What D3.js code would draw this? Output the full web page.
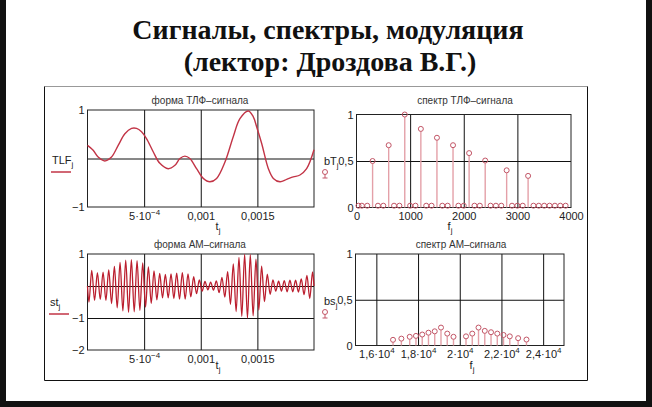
<!DOCTYPE html>
<html><head><meta charset="utf-8">
<script src="https://cdn.jsdelivr.net/npm/d3@7"></script>
<style>
html,body{margin:0;padding:0;background:#fff;}
svg{display:block;}
</style></head>
<body>
<svg id="c" width="652" height="407"></svg>
<script>
// ---------- DATA ----------
// ТЛФ signal: time (s) and value
const tlfT = [0,5.0e-5,9.4e-5,1.53e-4,2.12e-4,2.71e-4,3.30e-4,3.89e-4,4.33e-4,4.77e-4,5.21e-4,5.80e-4,6.39e-4,7.13e-4,7.72e-4,8.16e-4,8.60e-4,9.04e-4,9.63e-4,1.022e-3,1.081e-3,1.140e-3,1.214e-3,1.287e-3,1.346e-3,1.420e-3,1.464e-3,1.494e-3,1.538e-3,1.597e-3,1.641e-3,1.700e-3,1.759e-3,1.817e-3,1.876e-3,1.935e-3,2.0e-3];
const tlfV = [0.27,0.17,0.03,-0.05,0.03,0.27,0.51,0.62,0.62,0.55,0.41,0.14,-0.10,-0.21,-0.14,0.0,0.05,0.0,-0.21,-0.41,-0.48,-0.41,-0.07,0.45,0.82,0.98,0.86,0.65,0.31,-0.21,-0.41,-0.48,-0.43,-0.38,-0.34,-0.21,0.18];

// ТЛФ spectrum
const specF = [0,100,200,300,400,500,600,700,800,900,1000,1100,1200,1300,1400,1500,1600,1700,1800,1900,2000,2100,2200,2300,2400,2500,2600,2700,2800,2900,3000,3100,3200,3300,3400,3500,3600,3700,3800,3900];
const specV = [0,0,0,0.5,0,0,0.67,0,0,1.0,0,0,0.845,0,0,0.75,0,0,0.67,0,0,0.585,0,0,0.505,0,0,0,0.40,0,0,0,0.34,0,0,0,0,0,0,0];

// AM signal: carrier extremes (signed), one per half period of the 20 kHz carrier
const amHalfPeriod = 2.5e-5;
const amPeaks = [-0.50,0.49,-0.45,0.42,-0.42,0.43,-0.45,0.50,-0.55,0.61,-0.68,0.74,-0.78,0.81,-0.82,0.82,-0.81,0.79,-0.76,0.72,
 -0.66,0.60,-0.54,0.47,-0.43,0.39,-0.37,0.36,-0.37,0.38,-0.39,0.40,-0.41,0.42,-0.41,0.38,-0.34,0.29,-0.24,0.19,
 -0.16,0.14,-0.12,0.12,-0.13,0.16,-0.21,0.27,-0.35,0.45,-0.57,0.69,-0.80,0.89,-0.95,0.99,-1.00,0.98,-0.93,0.84,
 -0.75,0.62,-0.49,0.37,-0.26,0.19,-0.16,0.15,-0.16,0.17,-0.18,0.18,-0.18,0.18,-0.19,0.22,-0.27,0.33,-0.39,0.44];

// AM spectrum
const amSpecF = [16800,17200,17600,17900,18200,18500,18800,19100,19400,19700,20300,20600,20900,21200,21500,21800,22100,22400,22800,23200];
const amSpecV = [0.062,0.075,0.095,0.105,0.12,0.14,0.155,0.196,0.13,0.095,0.10,0.13,0.196,0.16,0.145,0.13,0.115,0.10,0.08,0.065];

// Tick labels
const tTicks = [5e-4,1e-3,1.5e-3];
const tTickLabels = [["5·10","−4"],["0,001",""],["0,0015",""]];
const fTicks = [0,1000,2000,3000,4000];
const fTickLabels = ["0","1000","2000","3000","4000"];
const fsTicks = [16000,18000,20000,22000,24000];
const fsTickLabels = [["1,6·10","4"],["1,8·10","4"],["2·10","4"],["2,2·10","4"],["2,4·10","4"]];

// ---------- DRAW ----------
const svg = d3.select("#c");
const FONT = "'Liberation Sans', Arial, sans-serif";
const RED = "#c23446";

// page frame
svg.append("rect").attr("x",0).attr("y",0).attr("width",652).attr("height",407).attr("fill","#fff");
svg.append("rect").attr("x",0).attr("y",0).attr("width",6).attr("height",407).attr("fill","#111");
svg.append("rect").attr("x",646).attr("y",0).attr("width",6).attr("height",407).attr("fill","#111");
svg.append("rect").attr("x",0).attr("y",401).attr("width",652).attr("height",6).attr("fill","#111");

// Title
svg.append("text").attr("x",328).attr("y",39).attr("text-anchor","middle")
  .attr("font-family","'Liberation Serif','Times New Roman',serif").attr("font-weight","bold").attr("font-size",28)
  .attr("fill","#111").text("Сигналы, спектры, модуляция");
svg.append("text").attr("x",330).attr("y",71).attr("text-anchor","middle")
  .attr("font-family","'Liberation Serif','Times New Roman',serif").attr("font-weight","bold").attr("font-size",28)
  .attr("fill","#111").text("(лектор: Дроздова В.Г.)");

// inner frame
svg.append("line").attr("x1",44.5).attr("x2",587.5).attr("y1",86.5).attr("y2",86.5).attr("stroke","#999");
svg.append("path").attr("d","M44.5,86.5V380.5H587.5V86.5").attr("fill","none").attr("stroke","#111");

function panel(cfg){
  const g = svg.append("g");
  const x = d3.scaleLinear().domain(cfg.xd).range([cfg.l,cfg.r]);
  const y = d3.scaleLinear().domain(cfg.yd).range([cfg.b,cfg.t]);
  // grid
  const gx = g.append("g").attr("transform",`translate(0,${cfg.b})`)
    .call(d3.axisBottom(x).tickValues(cfg.gridX).tickSize(-(cfg.b-cfg.t)).tickFormat(""));
  gx.select(".domain").remove();
  gx.selectAll("line").attr("stroke","#111").attr("stroke-width",1);
  const gy = g.append("g").attr("transform",`translate(${cfg.l},0)`)
    .call(d3.axisLeft(y).tickValues(cfg.gridY).tickSize(-(cfg.r-cfg.l)).tickFormat(""));
  gy.select(".domain").remove();
  gy.selectAll("line").attr("stroke","#111").attr("stroke-width",1);
  // frame
  g.append("rect").attr("x",cfg.l).attr("y",cfg.t).attr("width",cfg.r-cfg.l).attr("height",cfg.b-cfg.t)
    .attr("fill","none").attr("stroke","#222").attr("stroke-width",1);
  // x tick labels
  const ax = g.append("g").attr("transform",`translate(0,${cfg.b})`)
    .call(d3.axisBottom(x).tickValues(cfg.xTicks).tickSize(0).tickPadding(cfg.xPad||5).tickFormat(""));
  ax.select(".domain").remove();
  ax.selectAll("text").each(function(d,i){
    const lab = cfg.xLabels[i];
    const t = d3.select(this).attr("font-family",FONT).attr("font-size",11).attr("fill","#222");
    if (Array.isArray(lab)){
      t.append("tspan").text(lab[0]);
      if (lab[1]) t.append("tspan").attr("font-size",8).attr("dy",-5).text(lab[1]);
    } else t.text(lab);
  });
  // y tick labels
  const ay = g.append("g").attr("transform",`translate(${cfg.l},0)`)
    .call(d3.axisLeft(y).tickValues(cfg.yTicks).tickSize(0).tickPadding(3).tickFormat((d,i)=>cfg.yLabels[i]));
  ay.select(".domain").remove();
  ay.selectAll("text").attr("font-family",FONT).attr("font-size",11).attr("fill","#222");
  // title
  g.append("text").attr("x",cfg.titleX).attr("y",cfg.titleY).attr("text-anchor","middle")
    .attr("font-family",FONT).attr("font-size",10).attr("fill","#333").text(cfg.title);
  // x axis name
  const xn = g.append("text").attr("x",cfg.xnX).attr("y",cfg.xnY).attr("text-anchor","middle")
    .attr("font-family",FONT).attr("font-size",11).attr("fill","#222");
  xn.append("tspan").text(cfg.xName);
  xn.append("tspan").attr("font-size",8).attr("dy",3).text("j");
  return {g,x,y};
}

// Panel 1: ТЛФ signal
const p1 = panel({l:87.5,r:314,t:110,b:207,xd:[0,0.002],yd:[-1,1],gridX:tTicks,gridY:[0],
  xTicks:tTicks,xLabels:tTickLabels,yTicks:[1,-1],yLabels:["1","−1"],
  title:"форма ТЛФ–сигнала",titleX:200,titleY:104,xName:"t",xnX:218,xnY:230});
p1.g.append("path").datum(d3.zip(tlfT,tlfV))
  .attr("d",d3.line().x(d=>p1.x(d[0])).y(d=>p1.y(d[1])).curve(d3.curveCatmullRom))
  .attr("fill","none").attr("stroke",RED).attr("stroke-width",1.4);

// Panel 2: ТЛФ spectrum
const p2 = panel({l:356.5,r:571,t:114.5,b:207.5,xd:[0,4000],yd:[0,1],gridX:[1000,2000,3000],gridY:[0.5],
  xTicks:fTicks,xLabels:fTickLabels,yTicks:[1,0.5,0],yLabels:["1","0,5","0"],
  title:"спектр ТЛФ–сигнала",titleX:465,titleY:104,xName:"f",xnX:450,xnY:230});
const sp = d3.zip(specF,specV);
p2.g.selectAll("line.stem").data(sp.filter(d=>d[1]>0)).join("line").attr("class","stem")
  .attr("x1",d=>p2.x(d[0])).attr("x2",d=>p2.x(d[0]))
  .attr("y1",p2.y(0)).attr("y2",d=>p2.y(d[1])+2.6)
  .attr("stroke","#e4a0a8").attr("stroke-width",1.4);
p2.g.selectAll("circle").data(sp).join("circle")
  .attr("cx",d=>Math.max(p2.x(d[0]),p2.x(0)+2))
  .attr("cy",d=>d[1]>0?p2.y(d[1]):p2.y(d[1])-1.8)
  .attr("r",2.5).attr("fill","none").attr("stroke","#c25566").attr("stroke-width",1);

// Panel 3: AM signal
const p3 = panel({l:87.5,r:314,t:254,b:350,xd:[0,0.002],yd:[-2,1],gridX:tTicks,gridY:[0,-1],
  xTicks:tTicks,xLabels:tTickLabels,yTicks:[1,-1,-2],yLabels:["1","−1","−2"],
  title:"форма  АМ–сигнала",titleX:200,titleY:248,xName:"t",xnX:218,xnY:369});
const amPts = [[0,0]].concat(amPeaks.map((v,k)=>[(k+0.5)*amHalfPeriod,v])).concat([[0.002,0]]);
p3.g.append("path").datum(amPts)
  .attr("d",d3.line().x(d=>p3.x(d[0])).y(d=>p3.y(d[1])).curve(d3.curveMonotoneX))
  .attr("fill","none").attr("stroke","#bb1e2e").attr("stroke-width",1.3);

// Panel 4: AM spectrum
const p4 = panel({l:355.5,r:564,t:254,b:345.5,xd:[15000,25000],yd:[0,1],gridX:fsTicks,gridY:[0.5],
  xTicks:fsTicks,xLabels:fsTickLabels,yTicks:[1,0.5,0],yLabels:["1","0,5","0"],
  title:"спектр  АМ–сигнала",titleX:461,titleY:248,xName:"f",xnX:472,xnY:369});
const asp = d3.zip(amSpecF,amSpecV);
p4.g.selectAll("line.stem").data(asp).join("line").attr("class","stem")
  .attr("x1",d=>p4.x(d[0])).attr("x2",d=>p4.x(d[0]))
  .attr("y1",p4.y(0)).attr("y2",d=>p4.y(d[1])+2.6)
  .attr("stroke","#e4a0a8").attr("stroke-width",1.4);
p4.g.selectAll("circle").data(asp).join("circle")
  .attr("cx",d=>p4.x(d[0])).attr("cy",d=>p4.y(d[1]))
  .attr("r",2.5).attr("fill","none").attr("stroke","#c25566").attr("stroke-width",1);

// y-axis names / legends
function lineLegend(name, x, y){
  const t = svg.append("text").attr("x",x).attr("y",y).attr("font-family",FONT).attr("font-size",11).attr("fill","#222");
  t.append("tspan").text(name);
  t.append("tspan").attr("font-size",8).attr("dy",3).text("j");
  svg.append("line").attr("x1",x-1).attr("x2",x+19).attr("y1",y+8).attr("y2",y+8).attr("stroke",RED).attr("stroke-width",1.5);
}
lineLegend("TLF", 52, 164);
lineLegend("st", 50, 306);
function stemLegend(name, x, y){
  const t = svg.append("text").attr("x",x).attr("y",y).attr("font-family",FONT).attr("font-size",11).attr("fill","#222");
  t.append("tspan").text(name);
  t.append("tspan").attr("font-size",8).attr("dy",3).text("j");
  const cx = x+1, cy = y+7;
  svg.append("circle").attr("cx",cx).attr("cy",cy).attr("r",2.5).attr("fill","none").attr("stroke","#c25566");
  svg.append("line").attr("x1",cx).attr("x2",cx).attr("y1",cy+2.5).attr("y2",cy+6).attr("stroke","#c25566");
  svg.append("line").attr("x1",cx-2.5).attr("x2",cx+2.5).attr("y1",cy+6).attr("y2",cy+6).attr("stroke","#c25566");
}
stemLegend("bT", 324, 165);
stemLegend("bs", 324, 305);
</script>
</body></html>
